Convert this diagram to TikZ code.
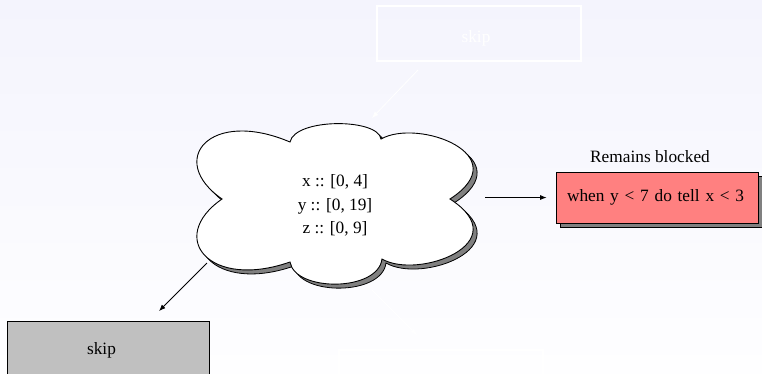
\documentclass[tikz,border=0pt]{standalone}
\usepackage{fontspec}
\setmainfont{Liberation Serif}
\usetikzlibrary{arrows.meta,shadows}
\definecolor{bgtop}{RGB}{244,244,253}
\definecolor{bgbot}{RGB}{254,254,255}
\definecolor{redfill}{RGB}{255,128,128}
\definecolor{grayfill}{RGB}{192,192,192}
\definecolor{shadowgray}{RGB}{128,128,128}
\begin{document}
\begin{tikzpicture}[x=1pt,y=-1pt,
  txt/.style={font=\fontsize{17.3}{23.5}\selectfont, inner sep=0pt},
  arr/.style={line width=0.8pt,-{Latex[length=6.5pt,width=5pt]}},
  warr/.style={draw=white,line width=0.8pt,-{Latex[length=6.5pt,width=5pt]}},
  cloudpath/.style={insert path={(222,199)
     .. controls (166,160) and (210,108) .. (290,142)
     .. controls (295,118) and (378,118) .. (381,139)
     .. controls (418,118) and (518,155) .. (450,199)
     .. controls (518,243) and (418,280) .. (382,259)
     .. controls (378,292) and (295,292) .. (290,262)
     .. controls (210,290) and (166,238) .. cycle}},
  redbox/.style={draw=black, line width=0.8pt, fill=redfill, minimum width=202pt, minimum height=51pt,
     text width=180pt, align=left, inner xsep=11pt, inner ysep=0pt,
     font=\fontsize{17.3}{20}\selectfont,
     copy shadow={shadow xshift=4pt, shadow yshift=-4pt, fill=shadowgray, draw=black}},
  graybox/.style={draw=black, line width=0.8pt, fill=grayfill, minimum width=202pt, minimum height=60pt, inner sep=0pt},
  whitebox/.style={draw=white, line width=1.3pt, minimum width=204pt, minimum height=55pt, inner sep=0pt}
]
\useasboundingbox (0,0) rectangle (762,373);
\shade[top color=bgtop, bottom color=bgbot] (0,0) rectangle (762,373);

% hidden white boxes
\node[whitebox] (topskip) at (479,33.5) {};
\node[txt, text=white, anchor=base] (topskiptxt) at (476,42) {skip};
\node[whitebox] (botskip) at (441,377.5) {};

% cloud with shadow
\begin{scope}[shift={(4,4)}]
  \draw[line width=0.8pt, fill=shadowgray] [cloudpath];
\end{scope}
\draw[line width=0.9pt, fill=white] [cloudpath];
\node[txt, align=center] (vars) at (335,205.5) {x :: [0, 4]\\y :: [0, 19]\\z :: [0, 9]};

\coordinate (cloudE) at (485,197.5);
\coordinate (cloudSW) at (207,263);
\coordinate (cloudN) at (372,118);
\coordinate (cloudS) at (372,290);

% blocked box
\node[redbox] (blocked) at (657,197.5) {when y < 7 do tell x < 3};
\node[txt, anchor=base] (lbl) at (650,162) {Remains blocked};

% gray skip box
\node[graybox] (skip) at (108,351) {};
\node[txt, anchor=base] (skiptxt) at (101.5,354) {skip};

\coordinate (skipN) at (159,311);
\coordinate (topskipS) at (418,70);
\coordinate (botskipN) at (417,335);

% connectors
\draw[arr] (cloudE) -- ([xshift=-9pt]blocked.west);
\draw[arr] (cloudSW) -- (skipN);
\draw[warr] (topskipS) -- (cloudN);
\draw[warr] (cloudS) -- (botskipN);
\end{tikzpicture}
\end{document}
